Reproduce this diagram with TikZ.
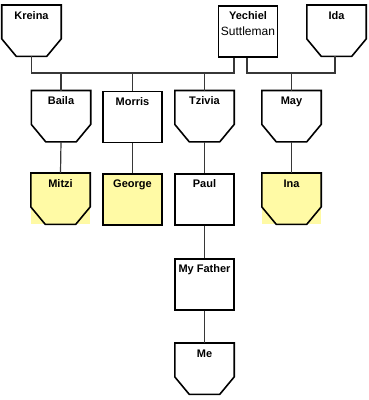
\documentclass[tikz,border=0pt]{standalone}
\usepackage{fontspec}
\setmainfont{Liberation Sans}
\definecolor{boxyellow}{RGB}{255,250,165}
\definecolor{conn}{RGB}{55,55,55}
\newcommand\chamferoutline[1]{%
  \draw[outline] (#1.north west) -- (#1.north east) -- ([yshift=17.5pt]#1.south east)
    -- ([xshift=-14.5pt]#1.south east) -- ([xshift=14.5pt]#1.south west)
    -- ([yshift=17.5pt]#1.south west) -- cycle;}
\begin{document}
\begin{tikzpicture}[x=1pt,y=-1pt,
  box/.style={minimum width=59pt, minimum height=51pt, inner sep=0pt,
    text height=14pt, text depth=37pt, anchor=north,
    font=\bfseries\fontsize{11}{13}\selectfont},
  rectbox/.style={box, draw=black, line width=1.6pt},
  outline/.style={draw=black, line width=1.6pt, line join=miter},
  yel/.style={fill=boxyellow},
  link/.style={draw=conn, line width=1.2pt}]
\fill[white] (0,0) rectangle (368,400);
\useasboundingbox (0,0) rectangle (368,400);
\coordinate (bus) at (0,73);
% top row
\node[box] (kreina) at (31.5,5) {Kreina};
\node[rectbox] (yechiel) at (248,5) {\vtop{\baselineskip=16pt
  \hbox to 58pt{\hfil Yechiel\hfil}
  \hbox to 58pt{\hfil\mdseries\fontsize{12}{14}\selectfont Suttleman\hfil}}};
\node[box] (ida) at (336.5,5) {Ida};
% second row
\node[box] (baila) at (61,90.5) {Baila};
\node[rectbox] (morris) at (132.5,90.5) {Morris};
\node[box] (tzivia) at (204.5,90.5) {Tzivia};
\node[box] (may) at (291.5,90.5) {May};
% third row
\node[box, yel] (mitzi) at (60.5,173) {Mitzi};
\node[rectbox, yel] (george) at (132.5,173) {George};
\node[rectbox] (paul) at (204.5,173) {Paul};
\node[box, yel] (ina) at (291.5,173) {Ina};
% lower
\node[rectbox] (father) at (204.5,258) {My Father};
\node[box] (me) at (204.5,343) {Me};
% chamfered outlines
\chamferoutline{kreina}
\chamferoutline{ida}
\chamferoutline{baila}
\chamferoutline{tzivia}
\chamferoutline{may}
\chamferoutline{mitzi}
\chamferoutline{ina}
\chamferoutline{me}
% connectors
\draw[link] (kreina.south) -- (kreina.south |- bus) -| ([xshift=-14pt]yechiel.south);
\draw[link] ([xshift=-1pt]yechiel.south) -- ([xshift=-1pt]yechiel.south |- bus) -| ([xshift=-1.5pt]ida.south);
\draw[link] (baila.north) -- (baila.north |- bus);
\draw[link] (morris.north) -- (morris.north |- bus);
\draw[link] (tzivia.north) -- (tzivia.north |- bus);
\draw[link] (may.north) -- (may.north |- bus);
\draw[link] (baila.south) -- (mitzi.north);
\draw[link] (morris.south) -- (george.north);
\draw[link] (tzivia.south) -- (paul.north);
\draw[link] (may.south) -- (ina.north);
\draw[link] (paul.south) -- (father.north);
\draw[link] (father.south) -- (me.north);
\end{tikzpicture}
\end{document}
